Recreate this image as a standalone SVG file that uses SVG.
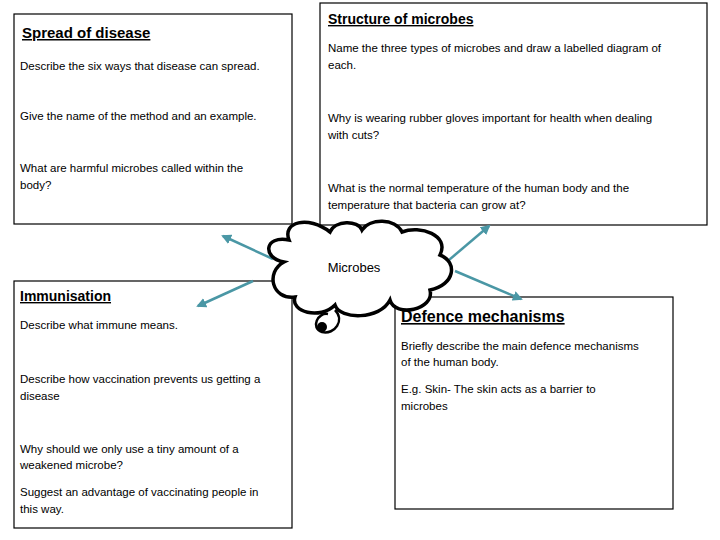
<svg xmlns="http://www.w3.org/2000/svg" width="720" height="540" viewBox="0 0 720 540">
<style>
.box{fill:#fff;stroke:#000;stroke-width:1.2}
text{font-family:"Liberation Sans",Arial,sans-serif;font-size:11.5px;fill:#000}
.t{font-size:15px;font-weight:bold;text-decoration:underline}
.c{stroke:#4a97a5;stroke-width:2.5;fill:none;marker-end:url(#ah)}
</style>
<defs><marker id="ah" viewBox="0 0 10 10" refX="8" refY="5" markerWidth="4" markerHeight="4" orient="auto"><path d="M0,0L10,5L0,10z" fill="#4a97a5"/></marker></defs>
<rect width="720" height="540" fill="#fff"/>
<g id="spread"><rect class="box" x="14" y="14" width="278" height="210"/>
<text class="t" x="22" y="38">Spread of disease</text>
<text x="20" y="70">Describe the six ways that disease can spread.</text>
<text x="20" y="120">Give the name of the method and an example.</text>
<text x="20" y="172">What are harmful microbes called within the</text><text x="20" y="189">body?</text></g>
<g id="structure"><rect class="box" x="320" y="3" width="387" height="222"/>
<text class="t" x="328" y="24" style="font-size:14px">Structure of microbes</text>
<text x="328" y="52">Name the three types of microbes and draw a labelled diagram of</text><text x="328" y="69">each.</text>
<text x="328" y="122">Why is wearing rubber gloves important for health when dealing</text><text x="328" y="139">with cuts?</text>
<text x="328" y="192">What is the normal temperature of the human body and the</text><text x="328" y="209">temperature that bacteria can grow at?</text></g>
<g id="immunisation"><rect class="box" x="14" y="281" width="278" height="247"/>
<text class="t" x="20" y="301" style="font-size:14px">Immunisation</text>
<text x="20" y="329">Describe what immune means.</text>
<text x="20" y="383">Describe how vaccination prevents us getting a</text><text x="20" y="400">disease</text>
<text x="20" y="453">Why should we only use a tiny amount of a</text><text x="20" y="469">weakened microbe?</text>
<text x="20" y="496">Suggest an advantage of vaccinating people in</text><text x="20" y="513">this way.</text></g>
<g id="defence"><rect class="box" x="395" y="297" width="278" height="212"/>
<text class="t" x="401" y="322" style="font-size:16px">Defence mechanisms</text>
<text x="401" y="350">Briefly describe the main defence mechanisms</text><text x="401" y="366">of the human body.</text>
<text x="401" y="393">E.g. Skin- The skin acts as a barrier to</text><text x="401" y="410">microbes</text></g>
<g id="connectors">
<line class="c" x1="273" y1="259" x2="223" y2="236"/>
<line class="c" x1="253" y1="281" x2="198" y2="306"/>
<line class="c" x1="436" y1="271" x2="489" y2="226"/>
<line class="c" x1="455" y1="271" x2="521" y2="299"/>
</g>
<g id="microbes">
<path d="M284,262 C262,258 264,235 289,240 C282,222 308,215 330,232 C335,220 358,220 362,230 C370,218 395,218 402,232 C420,225 450,235 440,255 C458,262 455,285 430,290 C435,310 395,318 390,300 C380,320 340,320 335,305 C320,320 290,312 295,297 C272,300 265,272 284,262 Z" fill="#fff" stroke="#000" stroke-width="3.5"/>
<path d="M335,310 C345,320 335,335 322,332 C310,328 318,312 328,314" fill="none" stroke="#000" stroke-width="2.5"/>
<circle cx="322" cy="327" r="5" fill="#000"/>
<text x="354" y="272" style="font-size:13px;text-anchor:middle">Microbes</text>
</g>
</svg>
